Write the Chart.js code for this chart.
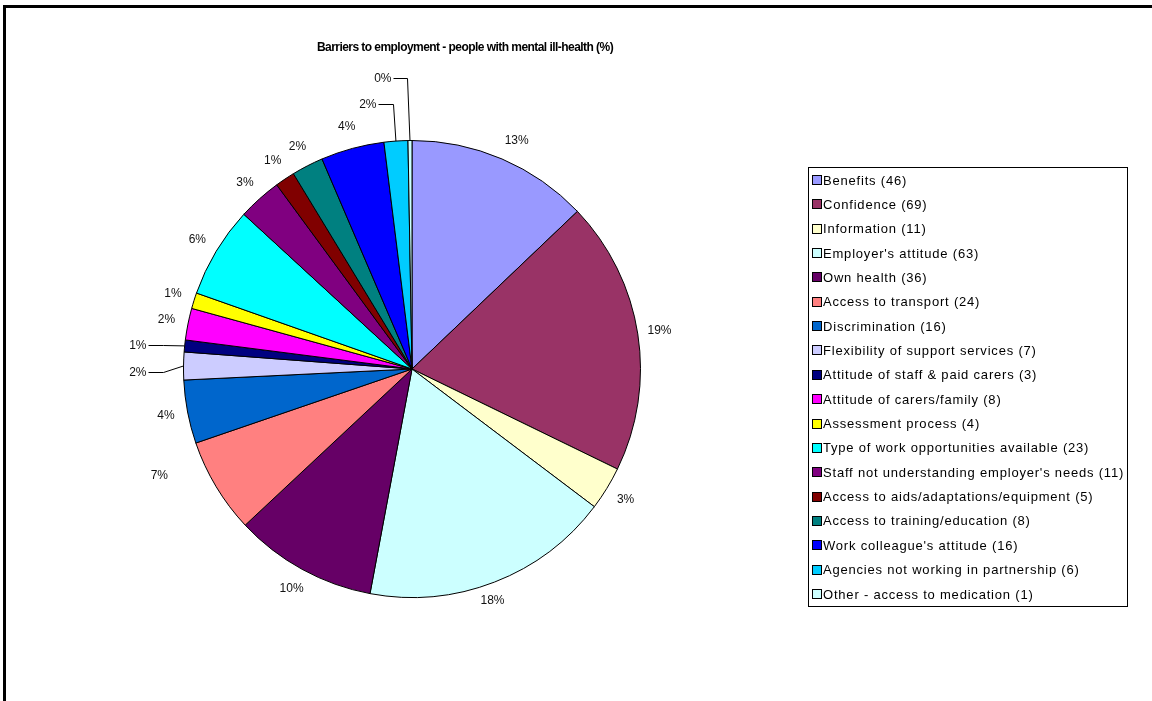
<!DOCTYPE html>
<html><head><meta charset="utf-8">
<script src="https://cdn.jsdelivr.net/npm/chart.js@4"></script>
<style>html,body{margin:0;padding:0;background:#fff;overflow:hidden}canvas{display:block}</style>
</head><body>
<canvas id="c" width="1152" height="701"></canvas>
<script>
const chartTitle = 'Barriers to employment - people with mental ill-health (%)';
const categories = [
  'Benefits', 'Confidence', 'Information', "Employer's attitude", 'Own health',
  'Access to transport', 'Discrimination', 'Flexibility of support services',
  'Attitude of staff & paid carers', 'Attitude of carers/family', 'Assessment process',
  'Type of work opportunities available', "Staff not understanding employer's needs",
  'Access to aids/adaptations/equipment', 'Access to training/education',
  "Work colleague's attitude", 'Agencies not working in partnership', 'Other - access to medication'
];
const counts = [46, 69, 11, 63, 36, 24, 16, 7, 3, 8, 4, 23, 11, 5, 8, 16, 6, 1];
const sliceColors = [
  '#9999FF', '#993366', '#FFFFCC', '#CCFFFF', '#660066', '#FF8080', '#0066CC', '#CCCCFF',
  '#000080', '#FF00FF', '#FFFF00', '#00FFFF', '#800080', '#800000', '#008080', '#0000FF',
  '#00CCFF', '#CCFFFF'
];
const total = counts.reduce((a, b) => a + b, 0);
const percentLabels = counts.map(v => Math.round(v / total * 100) + '%');
const legendLabels = categories.map((c, i) => c + ' (' + counts[i] + ')');

// leader-line labels: offset of elbow from slice edge, horizontal segment length
const leaders = {
  7: {dx: -21, dy: 6, len: 15},
  8: {dx: -22, dy: -1, len: 15},
  16: {dx: -3, dy: -37, len: 15},
  17: {dx: -3, dy: -63, len: 14}
};
// small manual label nudges (as placed in the original)
const labelNudge = {0: [6, 2], 5: [-38, -22], 3: [-10, -2]};

const decor = {
  id: 'decor',
  beforeDraw(chart) {
    const ctx = chart.ctx;
    ctx.save();
    ctx.fillStyle = '#fff';
    ctx.fillRect(0, 0, chart.width, chart.height);
    ctx.fillStyle = '#000';
    ctx.fillRect(3, 5, chart.width - 3, 3);
    ctx.fillRect(3, 5, 3, chart.height - 5);
    ctx.font = 'bold 12px "Liberation Sans", Arial, sans-serif';
    ctx.letterSpacing = '-0.55px';
    ctx.textAlign = 'center';
    ctx.textBaseline = 'middle';
    ctx.fillText(chartTitle, 465, 48);
    ctx.restore();
  },
  afterDraw(chart) {
    const ctx = chart.ctx;
    const meta = chart.getDatasetMeta(0);
    ctx.save();
    ctx.font = '12px "Liberation Sans", Arial, sans-serif';
    ctx.fillStyle = '#111';
    ctx.strokeStyle = '#000';
    ctx.lineWidth = 1;
    ctx.textBaseline = 'middle';
    meta.data.forEach((arc, i) => {
      const mid = (arc.startAngle + arc.endAngle) / 2;
      const R = arc.outerRadius;
      const ld = leaders[i];
      if (ld) {
        const ex = arc.x + Math.cos(mid) * R, ey = arc.y + Math.sin(mid) * R;
        const bx = Math.round(ex + ld.dx) + 0.5, by = Math.round(ey + ld.dy) + 0.5;
        ctx.beginPath();
        ctx.moveTo(ex, ey);
        ctx.lineTo(bx, by);
        ctx.lineTo(bx - ld.len, by);
        ctx.stroke();
        ctx.textAlign = 'right';
        ctx.fillText(percentLabels[i], bx - ld.len - 2, by);
      } else {
        const r = R + 22;
        const n = labelNudge[i] || [0, 0];
        ctx.textAlign = 'center';
        ctx.fillText(percentLabels[i], arc.x + Math.cos(mid) * r + n[0], arc.y + Math.sin(mid) * r + n[1]);
      }
    });
    // legend
    ctx.strokeRect(808.5, 167.5, 319, 439);
    ctx.font = '13px "Liberation Sans", Arial, sans-serif';
    ctx.letterSpacing = '0.8px';
    ctx.textAlign = 'left';
    legendLabels.forEach((t, i) => {
      const y = 180 + i * 24.35;
      const top = Math.round(y - 4);
      ctx.fillStyle = sliceColors[i];
      ctx.fillRect(813, top, 8, 8);
      ctx.strokeRect(812.5, top - 0.5, 9, 9);
      ctx.fillStyle = '#000';
      ctx.fillText(t, 823, y + 1);
    });
    ctx.restore();
  }
};

new Chart(document.getElementById('c'), {
  type: 'pie',
  data: {
    labels: categories,
    datasets: [{
      data: counts,
      backgroundColor: sliceColors,
      borderColor: '#000',
      borderWidth: 1
    }]
  },
  options: {
    responsive: false,
    animation: false,
    layout: {padding: {left: 183, top: 140, right: 511, bottom: 103}},
    plugins: {legend: {display: false}, title: {display: false}, tooltip: {enabled: false}}
  },
  plugins: [decor]
});
</script>
</body></html>
